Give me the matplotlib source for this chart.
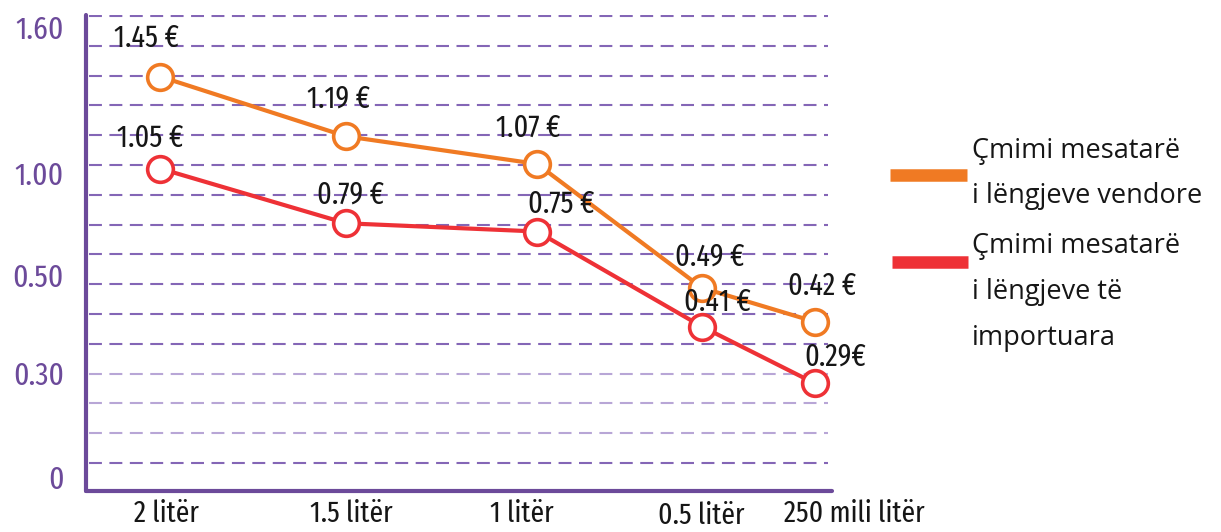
import os
import numpy as np
import matplotlib
matplotlib.use("Agg")
import matplotlib.pyplot as plt
from matplotlib import font_manager
from matplotlib.font_manager import FontProperties
from matplotlib.lines import Line2D
from matplotlib.transforms import ScaledTranslation

# data
categories = ['2 litër', '1.5 litër', '1 litër', '0.5 litër', '250 mili litër']
local_prices = [1.45, 1.19, 1.07, 0.49, 0.42]
import_prices = [1.05, 0.79, 0.75, 0.41, 0.29]
local_labels = ['1.45 €', '1.19 €', '1.07 €', '0.49 €', '0.42 €']
import_labels = ['1.05 €', '0.79 €', '0.75 €', '0.41 €', '0.29€']
ytick_values = [0, 0.30, 0.50, 1.00, 1.60]
ytick_labels = ['0', '0.30', '0.50', '1.00', '1.60']
legend_local = 'Çmimi mesatarë\ni lëngjeve vendore'
legend_import = 'Çmimi mesatarë\ni lëngjeve të\nimportuara'

ORANGE = '#F07A23'
RED = '#EE3136'
PURPLE = '#6C4A9A'
GRID_DARK = '#8466B6'
GRID_LIGHT = '#B8A6D6'

# look for a narrow face (the original uses a condensed sans)
WEIGHTS = ['bold', 'light', 'thin', 'black', 'medium', 'heavy', 'italic', 'oblique']


def find_narrow():
    best, rank = None, 99
    for f in font_manager.fontManager.ttflist:
        stem = os.path.basename(f.fname).lower()
        if any(w in stem for w in WEIGHTS):
            continue
        if 'extracondensed' in stem and 'noto' in stem:
            r = 0
        elif 'extracondensed' in stem:
            r = 1
        elif 'narrow' in stem or ('condensed' in stem and 'semi' not in stem):
            r = 2
        elif 'condensed' in stem:
            r = 3
        else:
            continue
        if r < rank:
            best, rank = f.fname, r
    return best


narrow_file = find_narrow()


def narrow(size):
    if narrow_file:
        return FontProperties(fname=narrow_file, size=size)
    return FontProperties(family='DejaVu Sans', size=size * 0.85)


names = {f.name for f in font_manager.fontManager.ttflist}
LEGEND_FONT = 'Open Sans' if 'Open Sans' in names else 'DejaVu Sans'

W, H = 1221, 532
AX_L, AX_R, AX_T, AX_B = 86, 832, 15, 491   # axes box in pixels

# the chart's value axis is hand drawn, so map values piecewise onto pixel heights
Y_KNOT_V = [-0.1, 0.0, 0.30, 0.50, 1.00, 1.60, 1.80]
Y_KNOT_H = [-26, 8, 111, 208, 311, 449, 495]
X_KNOT_I = [-1, 0, 1, 2, 3, 4, 5]
X_KNOT_H = [-112, 74, 260, 451, 616, 729, 842]


def fwd_y(v):
    return np.interp(v, Y_KNOT_V, Y_KNOT_H)


def inv_y(h):
    return np.interp(h, Y_KNOT_H, Y_KNOT_V)


def fwd_x(v):
    return np.interp(v, X_KNOT_I, X_KNOT_H)


def inv_x(h):
    return np.interp(h, X_KNOT_H, X_KNOT_I)


fig = plt.figure(figsize=(W / 100, H / 100), dpi=100)
ax = fig.add_axes([AX_L / W, 1 - AX_B / H, (AX_R - AX_L) / W, (AX_B - AX_T) / H])
ax.set_yscale('function', functions=(fwd_y, inv_y))
ax.set_xscale('function', functions=(fwd_x, inv_x))
ax.set_ylim(inv_y(0), inv_y(AX_B - AX_T))
ax.set_xlim(inv_x(0), inv_x(AX_R - AX_L))

# dashed guide lines, evenly spaced in the picture
for k in range(16):
    p = 16 + 29.8 * k
    frac = (AX_B - p) / (AX_B - AX_T)
    col = GRID_LIGHT if 12 <= k <= 14 else GRID_DARK
    ax.plot([0.004, 0.995], [frac, frac], transform=ax.transAxes, color=col,
            lw=1.5, linestyle=(0, (6.2, 3.6)), zorder=1)

x = np.arange(len(categories))
for vals, col in [(local_prices, ORANGE), (import_prices, RED)]:
    ax.plot(x, vals, color=col, lw=3, marker='o', ms=18.5, mfc='white',
            mec=col, mew=2.6, zorder=3)

# label offsets in pixels (dx, dy up)
local_off = [(-13, 38), (-7, 38), (-9, 36), (8, 31), (7, 36)]
import_off = [(-10, 30), (5, 29), (24, 28), (15, 24), (20, 27)]
for vals, labs, offs in [(local_prices, local_labels, local_off),
                         (import_prices, import_labels, import_off)]:
    for i, (v, lab) in enumerate(zip(vals, labs)):
        ax.annotate(lab, (x[i], v), xytext=(offs[i][0] * 0.72, offs[i][1] * 0.72),
                    textcoords='offset points', ha='center', va='center',
                    fontproperties=narrow(22), color='#161616', zorder=4)

for s in ['top', 'right']:
    ax.spines[s].set_visible(False)
for s in ['left', 'bottom']:
    ax.spines[s].set_color(PURPLE)
    ax.spines[s].set_linewidth(3)
    ax.spines[s].set_capstyle('round')

ax.set_yticks(ytick_values)
ax.set_yticklabels(ytick_labels)
ax.yaxis.set_minor_locator(matplotlib.ticker.NullLocator())
ax.tick_params(axis='y', length=0, pad=16, labelcolor=PURPLE)
ytick_nudge = [6, 7, 8, 7, 15]   # pixels up
for lab, dy in zip(ax.get_yticklabels(), ytick_nudge):
    lab.set_fontproperties(narrow(23))
    lab.set_transform(lab.get_transform() + ScaledTranslation(0, dy / 100, fig.dpi_scale_trans))

ax.set_xticks(x)
ax.set_xticklabels(categories)
ax.xaxis.set_minor_locator(matplotlib.ticker.NullLocator())
ax.tick_params(axis='x', length=0, pad=6, labelcolor='#161616')
xlabel_nudge = [(7, 0), (5, 0), (-15, 0), (-1, -2), (39, 0)]
for lab, (dx, dy) in zip(ax.get_xticklabels(), xlabel_nudge):
    lab.set_fontproperties(narrow(21.5))
    lab.set_transform(lab.get_transform() + ScaledTranslation(dx / 100, dy / 100, fig.dpi_scale_trans))

# legend drawn by hand
fig.add_artist(Line2D([890 / W, 967 / W], [1 - 175 / H] * 2, color=ORANGE, lw=9,
                      solid_capstyle='butt'))
fig.add_artist(Line2D([892 / W, 968 / W], [1 - 262 / H] * 2, color=RED, lw=9,
                      solid_capstyle='butt'))
fig.text(972 / W, 1 - 173.5 / H, legend_local, ha='left', va='center',
         fontsize=19.5, family=LEGEND_FONT, color='#161616', linespacing=1.85)
fig.text(972 / W, 1 - 292 / H, legend_import, ha='left', va='center',
         fontsize=19.5, family=LEGEND_FONT, color='#161616', linespacing=1.85)

fig.savefig('out.png', dpi=100)
